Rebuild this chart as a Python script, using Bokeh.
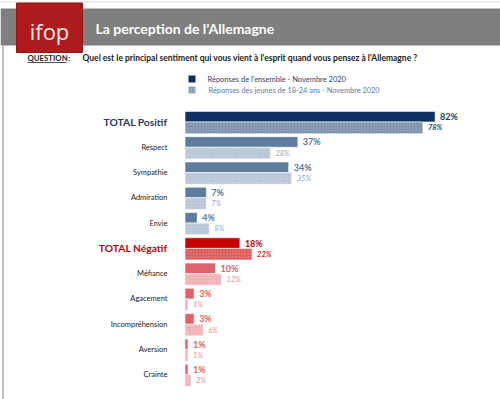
from bokeh.plotting import figure
from bokeh.models import Range1d, ColumnDataSource
from bokeh.core.properties import value
from bokeh.embed import file_html
from bokeh.resources import INLINE

# ---- data ----
categories = ["TOTAL Positif", "Respect", "Sympathie", "Admiration", "Envie",
              "TOTAL Négatif", "Méfiance", "Agacement", "Incompréhension", "Aversion", "Crainte"]
ensemble = [82, 37, 34, 7, 4, 18, 10, 3, 3, 1, 1]
jeunes = [78, 28, 35, 7, 8, 22, 12, 1, 6, 1, 2]
polarity = ["pos"] * 5 + ["neg"] * 6
is_total = [True, False, False, False, False, True, False, False, False, False, False]
series_names = ["Réponses de l'ensemble - Novembre 2020",
                "Réponses des jeunes de 18-24 ans - Novembre 2020"]

# ---- layout ----
W, H = 500, 399
X0, SX = 184.5, 3.05      # px of 0 %, px per %
Y0, SY = 121.5, 25.28     # px of first group centre, px per group
FONT = value("Lato")


def X(px):
    return (px - X0) / SX


def Y(py):
    return (py - Y0) / SY


p = figure(width=W, height=H, output_backend="svg", toolbar_location=None,
           x_range=Range1d(X(0), X(W)), y_range=Range1d(Y(H), Y(0)),
           min_border=0, min_border_left=0, min_border_right=0,
           min_border_top=0, min_border_bottom=0)
p.axis.visible = False
p.grid.visible = False
p.outline_line_color = None
p.background_fill_color = "white"
p.border_fill_color = "white"

# ---- frame / header ----
p.segment(x0=[X(0)], x1=[X(W)], y0=[Y(1.5)], y1=[Y(1.5)], line_color="#d8d8d8", line_width=1)
p.segment(x0=[X(2.5)], x1=[X(2.5)], y0=[Y(45)], y1=[Y(H)], line_color="#a8a8a8", line_width=1.5)
p.quad(left=[X(0)], right=[X(W)], top=[Y(8)], bottom=[Y(45)],
       fill_color="#7f7f7f", line_color=None)
p.quad(left=[X(16)], right=[X(82)], top=[Y(2.5)], bottom=[Y(52)],
       fill_color="#ae1b1c", line_color="#951616", line_width=1)
p.text(x=[X(49)], y=[Y(30)], text=["ifop"], text_font=value("Open Sans"),
       text_font_size="22px", text_color="#f6e6e6", text_align="center",
       text_baseline="middle", text_font_style="normal")
p.text(x=[X(95)], y=[Y(28)], text=["La perception de l’Allemagne"], text_font=FONT,
       text_font_size="14px", text_font_style="bold", text_color="white",
       text_baseline="middle")

# ---- question ----
p.text(x=[X(27)], y=[Y(57)], text=["QUESTION"], text_font=FONT,
       text_font_size="7.8px", text_font_style="bold", text_color="#222222",
       text_baseline="middle")
p.segment(x0=[X(27)], x1=[X(66)], y0=[Y(62)], y1=[Y(62)], line_color="#222222", line_width=0.8)
p.text(x=[X(68)], y=[Y(57)], text=[":"], text_font=FONT,
       text_font_size="7.8px", text_font_style="bold", text_color="#222222",
       text_baseline="middle")
p.text(x=[X(82)], y=[Y(57)],
       text=["Quel est le principal sentiment qui vous vient à l'esprit quand vous pensez à l'Allemagne ?"],
       text_font=FONT, text_font_size="8.5px", text_font_style="bold", text_color="#222222",
       text_baseline="middle")

# ---- legend ----
p.quad(left=[X(188)], right=[X(195)], top=[Y(75)], bottom=[Y(82)],
       fill_color="#0e2d5e", line_color=None)
p.quad(left=[X(188)], right=[X(195)], top=[Y(86)], bottom=[Y(93)],
       fill_color="#8a9db6", line_color=None,
       hatch_pattern="dot", hatch_color="white", hatch_alpha=0.35, hatch_scale=3)
p.text(x=[X(207)], y=[Y(79)], text=[series_names[0]], text_font=FONT,
       text_font_size="7.5px", text_color="#2a4470", text_baseline="middle")
p.text(x=[X(208)], y=[Y(90)], text=[series_names[1]], text_font=FONT,
       text_font_size="7.4px", text_color="#5f7ba3", text_baseline="middle")

# ---- bars ----
n = len(categories)
idx = list(range(n))
pal = {
    ("pos", True): ("#0e3264", "#7e91ab", "#203d6b", "#2c4670"),
    ("pos", False): ("#5f7b9e", "#b7c5d7", "#5b7698", "#8ea2bc"),
    ("neg", True): ("#c80000", "#e05a5c", "#c00000", "#c81818"),
    ("neg", False): ("#e0626a", "#f1b1b5", "#e06068", "#e88a92"),
}
c1 = [pal[(polarity[i], is_total[i])][0] for i in idx]
c2 = [pal[(polarity[i], is_total[i])][1] for i in idx]
t1 = [pal[(polarity[i], is_total[i])][2] for i in idx]
t2 = [pal[(polarity[i], is_total[i])][3] for i in idx]

off1, h1 = -0.21, 0.42
off2, h2 = 0.23, 0.46
gap = 5 / SX

src = ColumnDataSource(dict(
    cat=categories, ens=ensemble, jeu=jeunes,
    y1=[i + off1 for i in idx], y2=[i + off2 for i in idx], yc=idx,
    c1=c1, c2=c2, t1=t1, t2=t2,
    l1=[f"{v}%" for v in ensemble], l2=[f"{v}%" for v in jeunes],
    x1=[v + gap for v in ensemble], x2=[v + gap for v in jeunes],
    tc=[("#1f3864" if polarity[i] == "pos" else "#c00000") if is_total[i] else "#222222" for i in idx],
    fs=["10.3px" if is_total[i] else "7.5px" for i in idx],
    fw=["bold" if is_total[i] else "normal" for i in idx],
    fw2=["bold italic" if is_total[i] else "italic" for i in idx],
))

p.hbar(y="y1", left=0, right="ens", height=h1, source=src,
       fill_color="c1", line_color="white", line_width=0.6)
p.hbar(y="y2", left=0, right="jeu", height=h2, source=src,
       fill_color="c2", line_color="white", line_width=0.6,
       hatch_pattern="dot", hatch_color="white", hatch_alpha=0.35, hatch_scale=3)

p.text(x="x1", y="y1", text="l1", source=src, text_font=FONT, text_font_size="9px",
       text_font_style="bold", text_color="t1", text_baseline="middle")
p.text(x="x2", y="y2", text="l2", source=src, text_font=FONT, text_font_size="7.5px",
       text_font_style="fw2", text_color="t2", text_baseline="middle")

p.text(x=X(167), y="yc", text="cat", source=src, text_font=FONT, text_font_size="fs",
       text_font_style="fw", text_color="tc", text_align="right", text_baseline="middle")

open("out.html", "w").write(file_html(p, INLINE))
